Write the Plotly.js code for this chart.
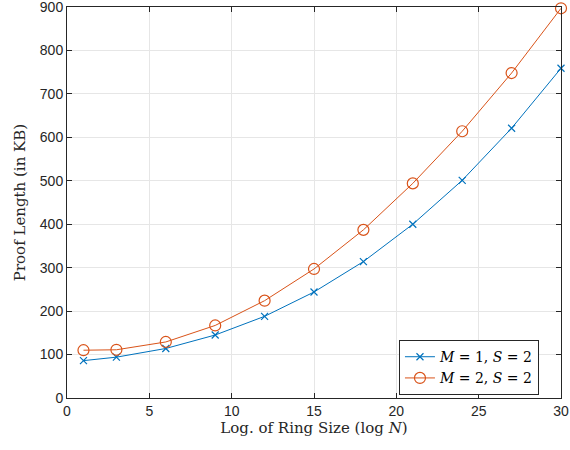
<!DOCTYPE html>
<html>
<head>
<meta charset="utf-8">
<script src="https://cdn.plot.ly/plotly-3.0.1.min.js"></script>
<style>html,body{margin:0;padding:0;background:#fff;}#chart{width:570px;height:450px;}</style>
</head>
<body>
<div id="chart"></div>
<script>
const logN = [1, 3, 6, 9, 12, 15, 18, 21, 24, 27, 30];
const proofM1S2 = [86, 94, 114, 145, 188, 244, 314, 400, 501, 621, 759];
const proofM2S2 = [110, 111, 129, 167, 224, 297, 387, 494, 614, 748, 897];
const seriesNames = ['<i>M</i> = 1, <i>S</i> = 2', '<i>M</i> = 2, <i>S</i> = 2'];
const xTicks = [0, 5, 10, 15, 20, 25, 30];
const yTicks = [0, 100, 200, 300, 400, 500, 600, 700, 800, 900];

const axisCommon = {
  showline: true, mirror: 'ticks', linecolor: '#262626', linewidth: 1,
  ticks: 'inside', ticklen: 5, tickcolor: '#262626', tickwidth: 1,
  showgrid: true, gridcolor: '#e6e6e6', gridwidth: 1, zeroline: false,
  ticklabeloverflow: 'allow',
  tickfont: {family: 'Liberation Sans, Arial, sans-serif', size: 14, color: '#262626'}
};
const titleFont = {family: 'DejaVu Serif, Liberation Serif, serif', size: 15, color: '#262626'};

const traces = [
  {x: logN, y: proofM1S2, name: seriesNames[0], type: 'scatter', mode: 'lines+markers', cliponaxis: false,
   line: {color: '#0072BD', width: 1},
   marker: {symbol: 'x-thin-open', size: 7, color: '#0072BD', line: {color: '#0072BD', width: 1.2}}},
  {x: logN, y: proofM2S2, name: seriesNames[1], type: 'scatter', mode: 'lines+markers', cliponaxis: false,
   line: {color: '#D95319', width: 1},
   marker: {symbol: 'circle-open', size: 11, color: '#D95319', line: {color: '#D95319', width: 1.2}}}
];

const layout = {
  width: 570, height: 450,
  margin: {l: 67, r: 9, t: 7, b: 52},
  paper_bgcolor: '#fff', plot_bgcolor: '#fff',
  xaxis: Object.assign({}, axisCommon, {
    range: [0, 30], tickvals: xTicks, ticktext: xTicks.map(String),
    title: {text: 'Log. of Ring Size (log <i>N</i>)', standoff: 4, font: titleFont}
  }),
  yaxis: Object.assign({}, axisCommon, {
    range: [0, 900], tickvals: yTicks, ticktext: yTicks.map(String),
    title: {text: 'Proof Length (in KB)', standoff: 10, font: titleFont}
  }),
  legend: {
    x: 0.672, y: 0.148, xanchor: 'left', yanchor: 'top',
    bgcolor: '#fff', bordercolor: '#262626', borderwidth: 1,
    font: {family: 'DejaVu Serif, Liberation Serif, serif', size: 14, color: '#000'},
    tracegroupgap: 0, itemwidth: 30
  },
  showlegend: true
};

Plotly.newPlot('chart', traces, layout, {displayModeBar: false, staticPlot: true});
</script>
</body>
</html>
